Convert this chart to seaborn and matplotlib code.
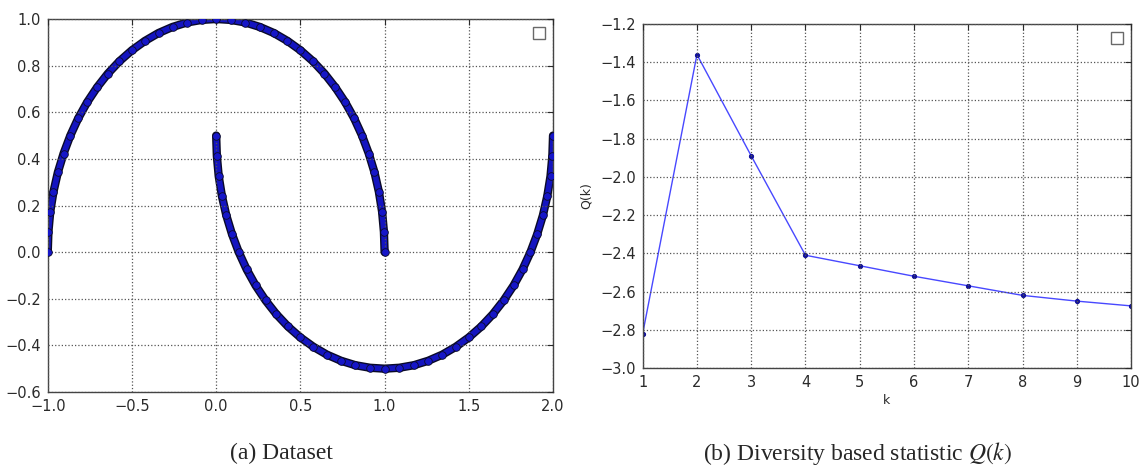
import matplotlib
matplotlib.use("Agg")
import matplotlib.pyplot as plt
import matplotlib.ticker as mticker
import seaborn as sns
import pandas as pd

# ---- data ----
# upper moon (points along the arc, every 5 degrees)
moon1_x = [1.000, 0.996, 0.985, 0.966, 0.940, 0.906, 0.866, 0.819, 0.766, 0.707,
           0.643, 0.574, 0.500, 0.423, 0.342, 0.259, 0.174, 0.087, 0.000, -0.087,
           -0.174, -0.259, -0.342, -0.423, -0.500, -0.574, -0.643, -0.707, -0.766,
           -0.819, -0.866, -0.906, -0.940, -0.966, -0.985, -0.996, -1.000]
moon1_y = [0.000, 0.087, 0.174, 0.259, 0.342, 0.423, 0.500, 0.574, 0.643, 0.707,
           0.766, 0.819, 0.866, 0.906, 0.940, 0.966, 0.985, 0.996, 1.000, 0.996,
           0.985, 0.966, 0.940, 0.906, 0.866, 0.819, 0.766, 0.707, 0.643, 0.574,
           0.500, 0.423, 0.342, 0.259, 0.174, 0.087, 0.000]
# lower moon
moon2_x = [0.000, 0.004, 0.015, 0.034, 0.060, 0.094, 0.134, 0.181, 0.234, 0.293,
           0.357, 0.426, 0.500, 0.577, 0.658, 0.741, 0.826, 0.913, 1.000, 1.087,
           1.174, 1.259, 1.342, 1.423, 1.500, 1.574, 1.643, 1.707, 1.766, 1.819,
           1.866, 1.906, 1.940, 1.966, 1.985, 1.996, 2.000]
moon2_y = [0.500, 0.413, 0.326, 0.241, 0.158, 0.077, 0.000, -0.074, -0.143, -0.207,
           -0.266, -0.319, -0.366, -0.406, -0.440, -0.466, -0.485, -0.496, -0.500,
           -0.496, -0.485, -0.466, -0.440, -0.406, -0.366, -0.319, -0.266, -0.207,
           -0.143, -0.074, 0.000, 0.077, 0.158, 0.241, 0.326, 0.413, 0.500]

k_vals = [1, 2, 3, 4, 5, 6, 7, 8, 9, 10]
q_vals = [-2.82, -1.36, -1.89, -2.41, -2.465, -2.52, -2.57, -2.62, -2.65, -2.675]

caption_a = "(a) Dataset"
caption_b = "(b) Diversity based statistic $Q(k)$"

sns.set_style("white")
plt.rcParams.update({
    "font.family": ["DejaVu Sans"],
    "mathtext.fontset": "stix",
    "xtick.direction": "in",
    "ytick.direction": "in",
    "xtick.top": True,
    "ytick.right": True,
    "xtick.major.size": 4,
    "ytick.major.size": 4,
    "xtick.color": "#2a2a2a",
    "ytick.color": "#2a2a2a",
    "xtick.labelsize": 10.5,
    "ytick.labelsize": 10.5,
    "axes.edgecolor": "#444444",
    "axes.linewidth": 1.0,
})

fig = plt.figure(figsize=(11.45, 4.67), dpi=100)
ax1 = fig.add_axes([0.0417, 0.1606, 0.4413, 0.7987])
ax2 = fig.add_axes([0.5613, 0.2120, 0.4265, 0.7366])

moons = pd.concat([
    pd.DataFrame({"x": moon1_x, "y": moon1_y, "moon": "upper"}),
    pd.DataFrame({"x": moon2_x, "y": moon2_y, "moon": "lower"}),
])

# thick band made of a dark outline, blue body and circle markers
for name, grp in moons.groupby("moon"):
    sns.lineplot(data=grp, x="x", y="y", sort=False, estimator=None, ax=ax1,
                 color="#0a0a28", lw=6.0, solid_capstyle="round")
    sns.lineplot(data=grp, x="x", y="y", sort=False, estimator=None, ax=ax1,
                 color="#1414c0", lw=4.0, solid_capstyle="round")
pts = sns.scatterplot(data=moons, x="x", y="y", ax=ax1, s=30, color="#1616c8",
                      edgecolor="#0a0a28", linewidth=0.6, zorder=3)
for coll in ax1.collections:
    coll.set_clip_on(True)
for ln in ax1.lines:
    ln.set_clip_on(True)

ax1.set_xlim(-1.0, 2.0)
ax1.set_ylim(-0.6, 1.0)
ax1.set_xticks([-1.0, -0.5, 0.0, 0.5, 1.0, 1.5, 2.0])
ax1.set_yticks([-0.6, -0.4, -0.2, 0.0, 0.2, 0.4, 0.6, 0.8, 1.0])
ax1.set_xlabel("")
ax1.set_ylabel("")

sns.lineplot(x=k_vals, y=q_vals, ax=ax2, color="#4848ff", lw=1.0,
             marker="o", markersize=3, markerfacecolor="#12129a",
             markeredgecolor="#12129a")
ax2.set_xlim(1, 10)
ax2.set_ylim(-3.0, -1.2)
ax2.set_xticks(k_vals)
ax2.set_yticks([-3.0, -2.8, -2.6, -2.4, -2.2, -2.0, -1.8, -1.6, -1.4, -1.2])
ax2.set_xlabel("k", fontsize=9, color="#2a2a2a", labelpad=3)
ax2.set_ylabel("Q(k)", fontsize=9, color="#2a2a2a", labelpad=5)

minus = lambda v, p: f"{v:.1f}".replace("-", "\u2212")
ax1.xaxis.set_major_formatter(mticker.FuncFormatter(minus))
ax2.xaxis.set_major_formatter(mticker.FuncFormatter(lambda v, p: f"{v:g}"))

for ax in (ax1, ax2):
    ax.yaxis.set_major_formatter(mticker.FuncFormatter(minus))
    ax.grid(True, linestyle=":", color="#555555", lw=0.9)
    ax.set_axisbelow(False)
    for sp in ax.spines.values():
        sp.set_visible(True)
    ax.tick_params(pad=5)
    leg = ax.legend(handles=[], loc="upper right", fancybox=False,
                    borderpad=0.45, borderaxespad=0.55)
    leg.get_frame().set_edgecolor("#444444")
    leg.get_frame().set_linewidth(1.0)

fig.text(0.246, 0.016, caption_a, ha="center", va="baseline",
         family="Liberation Serif", fontsize=17)
fig.text(0.749, 0.016, caption_b, ha="center", va="baseline",
         family="Liberation Serif", fontsize=17)

fig.savefig("out.png", dpi=100)
